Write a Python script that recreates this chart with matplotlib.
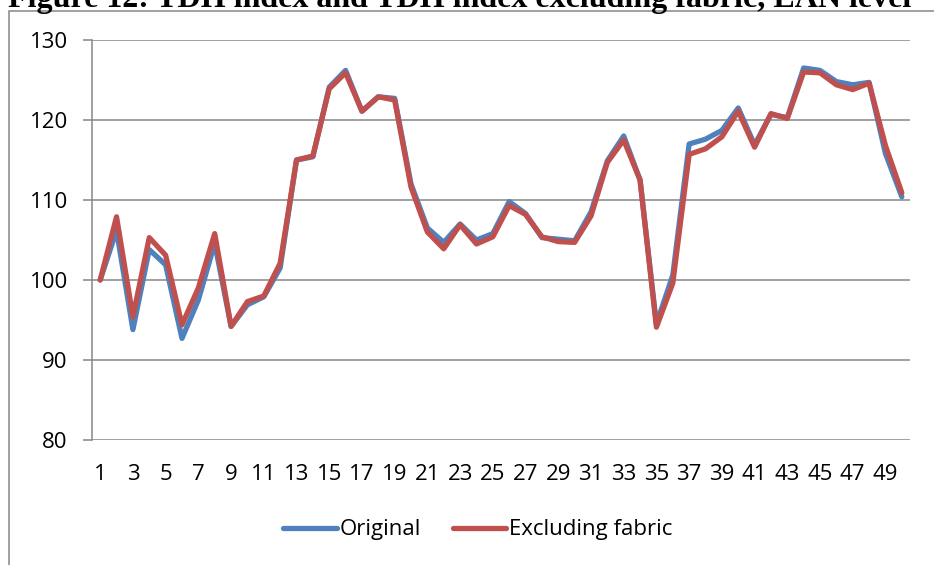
import matplotlib
matplotlib.use("Agg")
import matplotlib.pyplot as plt
from matplotlib.patches import Rectangle

# period index 1..50
periods = list(range(1, 51))

original = [100.0, 106.2, 93.8, 103.8, 101.9, 92.7, 97.5, 104.6, 94.2, 96.9,
            97.9, 101.5, 115.0, 115.4, 124.1, 126.2, 121.1, 122.9, 122.7, 112.0,
            106.5, 104.7, 107.0, 105.0, 105.8, 109.8, 108.3, 105.3, 105.1, 104.9,
            108.5, 114.9, 118.0, 112.5, 94.5, 100.6, 117.0, 117.6, 118.7, 121.5,
            116.9, 120.7, 120.3, 126.5, 126.2, 124.8, 124.4, 124.7, 115.8, 110.4]

excl_fabric = [100.0, 107.9, 95.4, 105.3, 103.1, 94.4, 99.0, 105.8, 94.2, 97.3,
               98.0, 102.1, 115.0, 115.5, 123.9, 125.9, 121.1, 122.9, 122.5, 111.6,
               106.0, 103.9, 106.9, 104.5, 105.4, 109.3, 108.2, 105.4, 104.8, 104.7,
               108.0, 114.7, 117.5, 112.5, 94.1, 99.6, 115.7, 116.4, 117.9, 121.1,
               116.6, 120.8, 120.2, 126.0, 125.9, 124.4, 123.8, 124.6, 116.8, 110.9]

y_ticks = [80, 90, 100, 110, 120, 130]
x_ticks = periods[::2]

TITLE = "Figure 12: TDH index and TDH index excluding fabric, EAN level"
BLUE = "#4F81BD"
RED = "#C0504D"
GRID = "#868686"

plt.rcParams["font.family"] = ["Open Sans", "DejaVu Sans"]

W, H = 934, 565
fig = plt.figure(figsize=(W / 100, H / 100), dpi=100)
ax = fig.add_axes([92 / W, 1 - 440 / H, (910 - 92) / W, 400 / H])

# chart frame (runs off the right and bottom edge)
fig.patches.append(Rectangle((9 / W, -0.05), 1.1, 1 - 11 / H + 0.05,
                             transform=fig.transFigure, fill=False,
                             edgecolor=GRID, lw=1.1, clip_on=False))

fig.text(459.5 / W, 1 - 7 / H, TITLE, ha="center", va="baseline",
         fontsize=23, fontweight="bold", family="Liberation Serif")

ax.plot(periods, original, color=BLUE, lw=3.8, label="Original",
        solid_joinstyle="round", solid_capstyle="round", zorder=3)
ax.plot(periods, excl_fabric, color=RED, lw=3.8, label="Excluding fabric",
        solid_joinstyle="round", solid_capstyle="round", zorder=4)

ax.set_xlim(0.5, 50.5)
ax.set_ylim(80, 130)
ax.set_yticks(y_ticks)
ax.set_xticks(x_ticks)
ax.set_xticklabels([str(v) for v in x_ticks])
ax.yaxis.grid(True, color=GRID, lw=1.1)
ax.set_axisbelow(True)
for s in ("top", "right", "bottom"):
    ax.spines[s].set_visible(False)
ax.spines["left"].set_color(GRID)
ax.spines["left"].set_linewidth(1.1)
ax.tick_params(axis="y", length=6.5, width=1.1, color=GRID, pad=11, labelsize=16)
ax.tick_params(axis="x", length=0, pad=17, labelsize=16)

fig.legend(loc="center", bbox_to_anchor=(478 / W, 1 - 530 / H), ncol=2,
           frameon=False, fontsize=16, handlelength=2.4, handletextpad=0.15,
           columnspacing=1.4)

fig.savefig("out.png", dpi=100)
